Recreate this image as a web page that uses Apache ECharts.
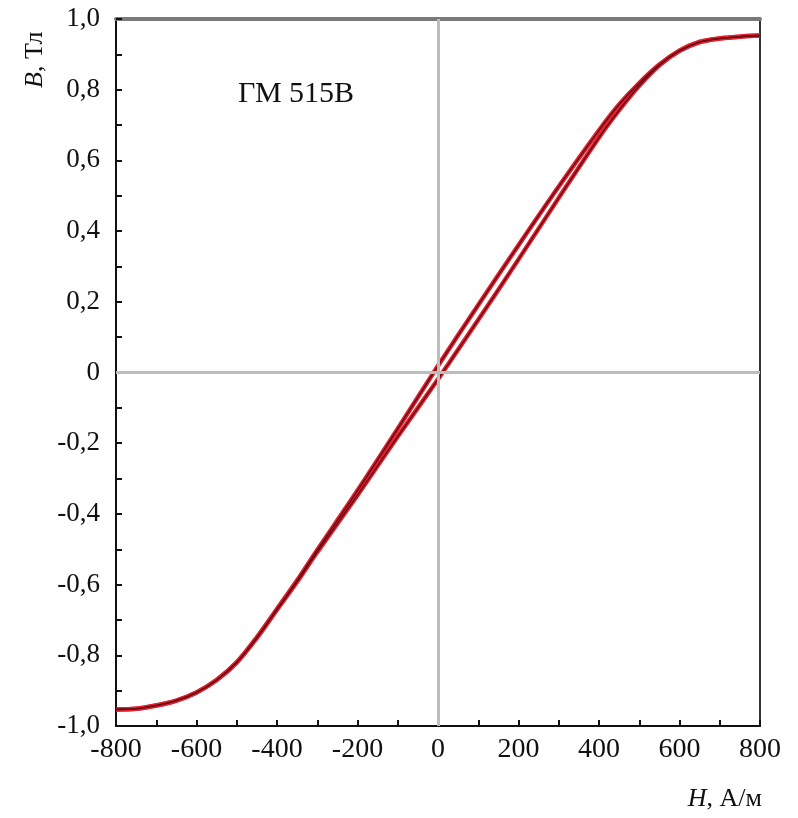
<!DOCTYPE html>
<html>
<head>
<meta charset="utf-8">
<script src="https://cdn.jsdelivr.net/npm/echarts@6/dist/echarts.min.js"></script>
<style>
html,body{margin:0;padding:0;background:#fff;}
#chart{width:798px;height:818px;}
</style>
</head>
<body>
<div id="chart"></div>
<script>
// Field strength H, A/m
const H = [-800,-750,-700,-650,-600,-550,-500,-450,-400,-350,-300,-200,-100,0,100,200,300,400,450,500,550,600,650,700,750,800];
// Descending branch (upper) B, T
const B_descending = [-0.953,-0.951,-0.942,-0.928,-0.905,-0.870,-0.820,-0.749,-0.669,-0.588,-0.502,-0.334,-0.159,0.019,0.191,0.360,0.526,0.685,0.758,0.819,0.871,0.910,0.935,0.945,0.950,0.953];
// Ascending branch (lower) B, T
const B_ascending = [-0.953,-0.951,-0.942,-0.928,-0.905,-0.870,-0.820,-0.751,-0.671,-0.592,-0.508,-0.347,-0.181,-0.019,0.149,0.320,0.494,0.665,0.742,0.811,0.869,0.910,0.935,0.945,0.950,0.953];
// Tick labels
const xTickValues = [-800,-600,-400,-200,0,200,400,600,800];
const xTickLabels = ['-800','-600','-400','-200','0','200','400','600','800'];
const yTickValues = [-1,-0.8,-0.6,-0.4,-0.2,0,0.2,0.4,0.6,0.8,1];
const yTickLabels = ['-1,0','-0,8','-0,6','-0,4','-0,2','0','0,2','0,4','0,6','0,8','1,0'];
const curveLabel = 'ГМ 515В';

const desc = H.map((h,i)=>[h,B_descending[i]]);
const asc = H.map((h,i)=>[h,B_ascending[i]]);

const serif = '"Liberation Serif","Times New Roman",serif';
const chart = echarts.init(document.getElementById('chart'), null, {renderer:'canvas'});

function xFmt(v){
  const i = xTickValues.findIndex(t=>Math.abs(t-v)<1e-6);
  return i>=0 ? xTickLabels[i] : '';
}
function yFmt(v){
  const i = yTickValues.findIndex(t=>Math.abs(t-v)<1e-6);
  return i>=0 ? yTickLabels[i] : '';
}

const redOuter = {color:'#e2232f', width:4.5};
const darkInner = {color:'#6e0c16', width:1.6};

chart.setOption({
  animation:false,
  backgroundColor:'#ffffff',
  grid:{left:116,right:38,top:19,bottom:92},
  xAxis:[{
    type:'value', min:-800, max:800, interval:100, position:'bottom',
    axisLine:{show:true,onZero:false,lineStyle:{color:'#111',width:2}},
    axisTick:{show:true,inside:true,length:6,lineStyle:{color:'#111',width:2}},
    axisLabel:{formatter:xFmt,color:'#111',fontFamily:serif,fontSize:28,margin:10},
    splitLine:{show:false}
  },{
    type:'value', min:-800, max:800, position:'top',
    axisLine:{show:true,onZero:false,lineStyle:{color:'#7a7a7a',width:4}},
    axisTick:{show:false}, axisLabel:{show:false}, splitLine:{show:false}
  }],
  yAxis:[{
    type:'value', min:-1, max:1, interval:0.1, position:'left',
    axisLine:{show:true,onZero:false,lineStyle:{color:'#111',width:2}},
    axisTick:{show:true,inside:true,length:6,lineStyle:{color:'#111',width:2}},
    axisLabel:{formatter:yFmt,color:'#111',fontFamily:serif,fontSize:27,margin:16},
    splitLine:{show:false}
  },{
    type:'value', min:-1, max:1, position:'right',
    axisLine:{show:true,onZero:false,lineStyle:{color:'#333',width:2}},
    axisTick:{show:false}, axisLabel:{show:false}, splitLine:{show:false}
  }],
  graphic:[
    {type:'text', left:238, top:79, style:{text:curveLabel, fill:'#111', font:'30px '+serif}},
    {type:'text', x:22, y:88, rotation:Math.PI/2,
      style:{text:'{i|B}, Тл', fill:'#111', font:'26px '+serif,
        rich:{i:{fontStyle:'italic',fontFamily:serif,fontSize:26,fill:'#111'}}}},
    {type:'text', right:36, top:786,
      style:{text:'{i|H}, А/м', fill:'#111', font:'26px '+serif,
        rich:{i:{fontStyle:'italic',fontFamily:serif,fontSize:26,fill:'#111'}}}}
  ],
  series:[
    {type:'line', z:1, data:[[0,0]], showSymbol:false, lineStyle:{width:0}, silent:true,
     markLine:{silent:true, symbol:['none','none'], label:{show:false},
       lineStyle:{color:'#bdbdbd',width:3,type:'solid'},
       data:[{xAxis:0},{yAxis:0}]}},
    {type:'line', z:3, data:desc, smooth:0.3, showSymbol:false, lineStyle:redOuter},
    {type:'line', z:3, data:asc, smooth:0.3, showSymbol:false, lineStyle:redOuter},
    {type:'line', z:4, data:desc, smooth:0.3, showSymbol:false, lineStyle:darkInner},
    {type:'line', z:4, data:asc, smooth:0.3, showSymbol:false, lineStyle:darkInner}
  ]
});
</script>
</body>
</html>
